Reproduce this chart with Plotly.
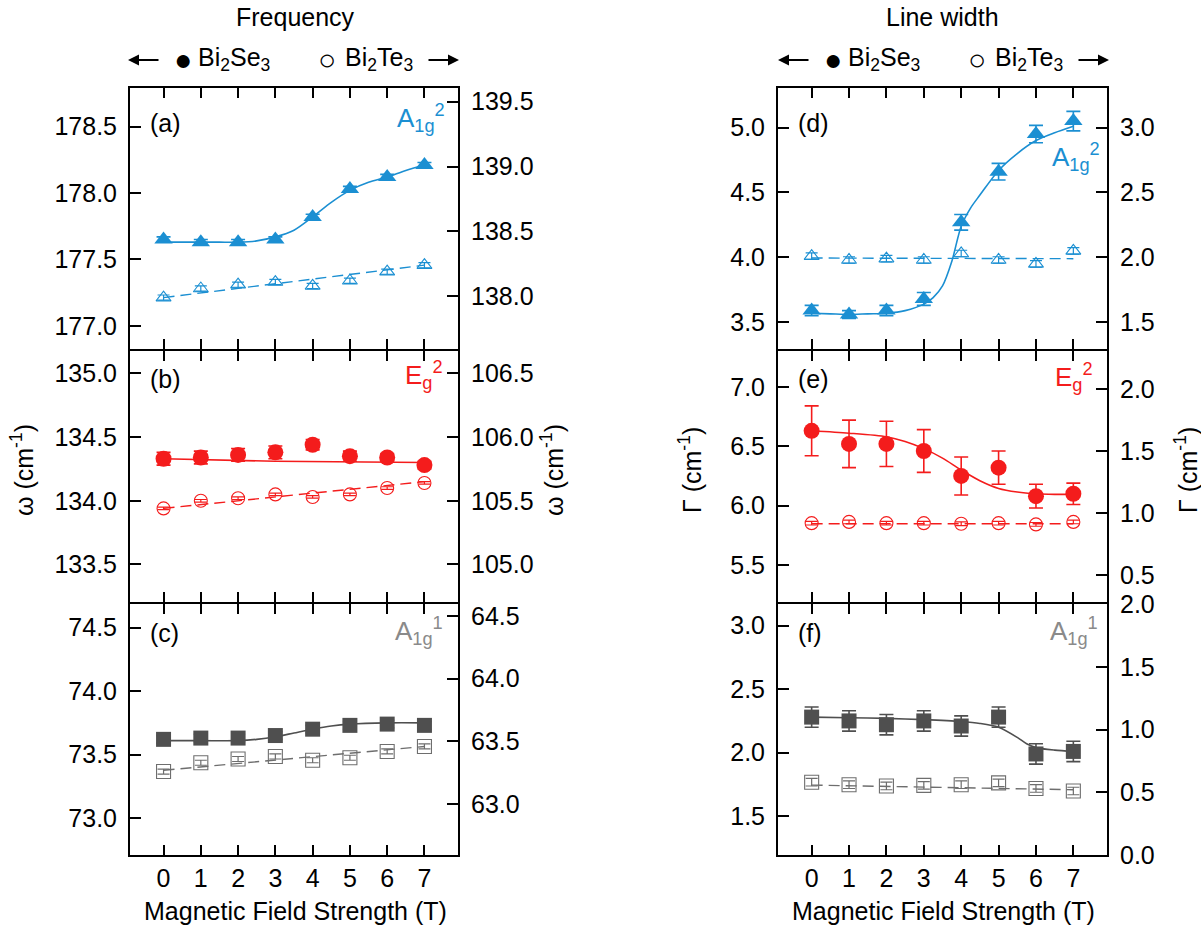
import plotly.graph_objects as go

W, H = 1201, 934
FONT = "Liberation Sans, Arial, sans-serif"

field = [0, 1, 2, 3, 4, 5, 6, 7]

# ---- (a) A1g^2 frequency ----
a_se = [177.65, 177.63, 177.63, 177.65, 177.82, 178.03, 178.12, 178.21]
a_se_err = [0.02, 0.02, 0.02, 0.02, 0.02, 0.02, 0.02, 0.02]
a_te = [137.99, 138.06, 138.09, 138.11, 138.08, 138.12, 138.19, 138.24]
a_te_err = [0.02, 0.02, 0.02, 0.02, 0.02, 0.02, 0.02, 0.02]
a_fit_x = [0, 0.5, 1, 1.5, 2, 2.5, 3, 3.5, 4, 4.5, 5, 5.5, 6, 6.5, 7]
a_fit_se = [177.63, 177.63, 177.63, 177.63, 177.63, 177.64, 177.67, 177.72,
            177.82, 177.93, 178.02, 178.08, 178.12, 178.17, 178.21]
a_fit_te_x = [0, 7]
a_fit_te = [137.99, 138.24]

# ---- (b) Eg^2 frequency ----
b_se = [134.33, 134.34, 134.36, 134.38, 134.44, 134.35, 134.34, 134.28]
b_se_err = [0.05, 0.05, 0.05, 0.05, 0.04, 0.04, 0.03, 0.03]
b_te = [105.44, 105.50, 105.52, 105.55, 105.53, 105.55, 105.60, 105.64]
b_te_err = [0.01, 0.01, 0.01, 0.01, 0.01, 0.01, 0.01, 0.01]
b_fit_x = [0, 3, 7]
b_fit_se = [134.33, 134.31, 134.30]
b_fit_te_x = [0, 7]
b_fit_te = [105.44, 105.65]

# ---- (c) A1g^1 frequency ----
c_se = [73.62, 73.63, 73.63, 73.65, 73.70, 73.73, 73.74, 73.73]
c_se_err = [0.03, 0.03, 0.03, 0.03, 0.03, 0.03, 0.03, 0.03]
c_te = [63.26, 63.33, 63.36, 63.38, 63.35, 63.37, 63.42, 63.46]
c_te_err = [0.02, 0.02, 0.02, 0.02, 0.02, 0.02, 0.02, 0.02]
c_fit_x = [0, 1, 2, 2.5, 3, 3.5, 4, 4.5, 5, 6, 7]
c_fit_se = [73.61, 73.61, 73.61, 73.62, 73.64, 73.67, 73.70, 73.725, 73.74, 73.75, 73.75]
c_fit_te_x = [0, 7]
c_fit_te = [63.27, 63.46]

# ---- (d) A1g^2 line width ----
d_se = [3.59, 3.56, 3.59, 3.68, 4.27, 4.66, 4.95, 5.05]
d_se_err = [0.04, 0.03, 0.04, 0.05, 0.06, 0.064, 0.067, 0.075]
d_te = [2.01, 1.98, 1.99, 1.98, 2.03, 1.98, 1.95, 2.05]
d_te_err = [0.025, 0.025, 0.025, 0.025, 0.025, 0.025, 0.025, 0.025]
d_fit_x = [0, 0.5, 1, 1.5, 2, 2.5, 3, 3.25, 3.5, 3.75, 4, 4.25, 4.5, 5, 5.5, 6, 6.5, 7]
d_fit_se = [3.57, 3.565, 3.56, 3.565, 3.57, 3.59, 3.64, 3.69, 3.78, 3.97, 4.24,
            4.38, 4.48, 4.67, 4.80, 4.90, 4.96, 5.01]
d_fit_te_x = [0, 7]
d_fit_te = [1.995, 1.99]

# ---- (e) Eg^2 line width ----
e_se = [6.63, 6.52, 6.52, 6.46, 6.25, 6.32, 6.08, 6.10]
e_se_err = [0.21, 0.20, 0.19, 0.18, 0.16, 0.14, 0.10, 0.09]
e_te = [0.92, 0.93, 0.92, 0.92, 0.915, 0.92, 0.91, 0.93]
e_te_err = [0.015, 0.015, 0.015, 0.015, 0.015, 0.015, 0.015, 0.015]
e_fit_x = [0, 1, 2, 2.5, 3, 3.5, 4, 4.5, 5, 5.5, 6, 6.5, 7]
e_fit_se = [6.63, 6.61, 6.58, 6.54, 6.48, 6.40, 6.30, 6.21, 6.145, 6.115, 6.10, 6.095, 6.095]
e_fit_te_x = [0, 7]
e_fit_te = [0.915, 0.915]

# ---- (f) A1g^1 line width ----
f_se = [2.28, 2.25, 2.22, 2.25, 2.21, 2.28, 1.99, 2.01]
f_se_err = [0.08, 0.08, 0.08, 0.08, 0.08, 0.08, 0.08, 0.08]
f_te = [0.58, 0.56, 0.55, 0.555, 0.56, 0.575, 0.53, 0.51]
f_te_err = [0.03, 0.03, 0.03, 0.03, 0.03, 0.03, 0.03, 0.03]
f_fit_x = [0, 1, 2, 3, 4, 4.5, 5, 5.5, 5.75, 6, 6.5, 7]
f_fit_se = [2.28, 2.275, 2.27, 2.26, 2.245, 2.23, 2.20, 2.12, 2.07, 2.04, 2.02, 2.01]
f_fit_te_x = [0, 7]
f_fit_te = [0.557, 0.52]

BLUE = "#1b8fd2"
RED = "#f41c1c"
GRAY = "#4f4f4f"
GRAY_OPEN = "#6e6e6e"
GRAY_TXT = "#8a8a8a"


def px(x):
    return x / W


def py(y):
    return 1 - y / H


COLS = [(130, 458), (778, 1107)]
# slight offsets so that neighbouring axis lines coincide on the dividers
ROWS = [(88, 348.5), (350.5, 602), (604, 855)]
LABEL_Y = [123, 379, 633]

panels = [
    dict(col=0, row=0, se=a_se, se_err=a_se_err, te=a_te, te_err=a_te_err,
         fx=a_fit_x, fse=a_fit_se, ftx=a_fit_te_x, fte=a_fit_te,
         color=BLUE, sym="triangle-up", size=16, osize=13,
         lr=[176.83, 178.79], lt=[177.0, 177.5, 178.0, 178.5],
         rr=[137.598, 139.605], rt=[138.0, 138.5, 139.0, 139.5],
         label="(a)", mode="A<sub>1g</sub><sup>2</sup>", mx=395, my=118, mcolor=BLUE),
    dict(col=0, row=1, se=b_se, se_err=b_se_err, te=b_te, te_err=b_te_err,
         fx=b_fit_x, fse=b_fit_se, ftx=b_fit_te_x, fte=b_fit_te,
         color=RED, sym="circle", size=16, osize=13,
         lr=[133.205, 135.18], lt=[133.5, 134.0, 134.5, 135.0],
         rr=[104.705, 106.68], rt=[105.0, 105.5, 106.0, 106.5],
         label="(b)", mode="E<sub>g</sub><sup>2</sup>", mx=403, my=375, mcolor=RED),
    dict(col=0, row=2, se=c_se, se_err=c_se_err, te=c_te, te_err=c_te_err,
         fx=c_fit_x, fse=c_fit_se, ftx=c_fit_te_x, fte=c_fit_te,
         color=GRAY, sym="square", size=15, osize=14,
         lr=[72.71, 74.685], lt=[73.0, 73.5, 74.0, 74.5],
         rr=[62.595, 64.595], rt=[63.0, 63.5, 64.0, 64.5],
         label="(c)", mode="A<sub>1g</sub><sup>1</sup>", mx=393, my=631, mcolor=GRAY_TXT),
    dict(col=1, row=0, se=d_se, se_err=d_se_err, te=d_te, te_err=d_te_err,
         fx=d_fit_x, fse=d_fit_se, ftx=d_fit_te_x, fte=d_fit_te,
         color=BLUE, sym="triangle-up", size=16, osize=13,
         lr=[3.298, 5.305], lt=[3.5, 4.0, 4.5, 5.0],
         rr=[1.298, 3.305], rt=[1.5, 2.0, 2.5, 3.0],
         label="(d)", mode="A<sub>1g</sub><sup>2</sup>", mx=1050, my=157, mcolor=BLUE),
    dict(col=1, row=1, se=e_se, se_err=e_se_err, te=e_te, te_err=e_te_err,
         fx=e_fit_x, fse=e_fit_se, ftx=e_fit_te_x, fte=e_fit_te,
         color=RED, sym="circle", size=16, osize=13,
         lr=[5.189, 7.306], lt=[5.5, 6.0, 6.5, 7.0],
         rr=[0.286, 2.308], rt=[0.5, 1.0, 1.5, 2.0],
         label="(e)", mode="E<sub>g</sub><sup>2</sup>", mx=1053, my=377, mcolor=RED),
    dict(col=1, row=2, se=f_se, se_err=f_se_err, te=f_te, te_err=f_te_err,
         fx=f_fit_x, fse=f_fit_se, ftx=f_fit_te_x, fte=f_fit_te,
         color=GRAY, sym="square", size=15, osize=14,
         lr=[1.195, 3.17], lt=[1.5, 2.0, 2.5, 3.0],
         rr=[0.0, 2.0], rt=[0.0, 0.5, 1.0, 1.5, 2.0],
         label="(f)", mode="A<sub>1g</sub><sup>1</sup>", mx=1048, my=631, mcolor=GRAY_TXT),
]

fig = go.Figure()
layout = dict(
    template="none",
    width=W, height=H, autosize=False,
    margin=dict(l=0, r=0, t=0, b=0, pad=0, autoexpand=False),
    paper_bgcolor="white", plot_bgcolor="white",
    showlegend=False,
    font=dict(family=FONT, size=25, color="black"),
)
annotations = []

for i, p in enumerate(panels):
    n = i + 1
    xname = "x" if n == 1 else f"x{n}"
    yname = "y" if n == 1 else f"y{n}"
    yrname = f"y{n + 6}"
    x0, x1 = COLS[p["col"]]
    y0, y1 = ROWS[p["row"]]
    open_color = GRAY_OPEN if p["color"] == GRAY else p["color"]

    layout["xaxis" if n == 1 else f"xaxis{n}"] = dict(
        domain=[px(x0), px(x1)], anchor=yname, range=[-0.9, 7.9],
        tickvals=field, ticks="inside", ticklen=10, tickwidth=2, tickcolor="black",
        showline=True, linewidth=2, linecolor="black", mirror="ticks",
        showgrid=False, zeroline=False, automargin=False,
        showticklabels=(p["row"] == 2), ticklabelstandoff=0,
        tickfont=dict(size=25, family=FONT),
    )
    layout["yaxis" if n == 1 else f"yaxis{n}"] = dict(
        domain=[py(y1), py(y0)], anchor=xname, range=p["lr"],
        tickvals=p["lt"], tickformat=".1f",
        ticks="inside", ticklen=11, tickwidth=2, tickcolor="black",
        showline=True, linewidth=2, linecolor="black", automargin=False,
        showgrid=False, zeroline=False, ticklabelstandoff=6,
        tickfont=dict(size=25, family=FONT),
    )
    layout[f"yaxis{n + 6}"] = dict(
        overlaying=yname, side="right", anchor=xname, range=p["rr"],
        tickvals=p["rt"], tickformat=".1f",
        ticks="inside", ticklen=11, tickwidth=2, tickcolor="black",
        showline=True, linewidth=2, linecolor="black", automargin=False,
        showgrid=False, zeroline=False, ticklabelstandoff=6,
        tickfont=dict(size=25, family=FONT),
    )

    # Bi2Se3 fit and points (left axis)
    fig.add_trace(go.Scatter(
        x=p["fx"], y=p["fse"], mode="lines", xaxis=xname, yaxis=yname,
        line=dict(color=p["color"], width=1.6, shape="spline", smoothing=0.8),
        hoverinfo="skip"))
    fig.add_trace(go.Scatter(
        x=field, y=p["se"], mode="markers", xaxis=xname, yaxis=yname,
        marker=dict(symbol=p["sym"], size=p["size"], color=p["color"],
                    line=dict(width=0)),
        error_y=dict(type="data", array=p["se_err"], color=p["color"],
                     thickness=1.6, width=7)))
    # Bi2Te3 fit and points (right axis)
    fig.add_trace(go.Scatter(
        x=p["ftx"], y=p["fte"], mode="lines", xaxis=xname, yaxis=yrname,
        line=dict(color=open_color, width=1.4, dash="11px,6px"),
        hoverinfo="skip"))
    fig.add_trace(go.Scatter(
        x=field, y=p["te"], mode="markers", xaxis=xname, yaxis=yrname,
        marker=dict(symbol=p["sym"] + "-open", size=p["osize"], color=open_color,
                    line=dict(width=1.1, color=open_color)),
        error_y=dict(type="data", array=p["te_err"], color=open_color,
                     thickness=1.2, width=6)))

    annotations.append(dict(
        x=px(x0 + 18), y=py(LABEL_Y[p["row"]]),
        xref="paper", yref="paper", xanchor="left", yanchor="middle",
        text=p["label"], showarrow=False, font=dict(size=25, family=FONT)))
    annotations.append(dict(
        x=px(p["mx"]), y=py(p["my"]), xref="paper", yref="paper",
        xanchor="left", yanchor="middle", text=p["mode"], showarrow=False,
        font=dict(size=26, family=FONT, color=p["mcolor"])))

# headers
for cx, title in [(295, "Frequency"), (942, "Line width")]:
    annotations.append(dict(x=px(cx), y=py(17), xref="paper", yref="paper",
                            text=title, showarrow=False, xanchor="center",
                            yanchor="middle", font=dict(size=25, family=FONT)))
for off in [0, 650]:
    items = [
        (183 + off, "center", "●", 30),
        (196 + off, "left", "Bi<sub>2</sub>Se<sub>3</sub>", 25),
        (327 + off, "center", "○", 30),
        (343 + off, "left", "Bi<sub>2</sub>Te<sub>3</sub>", 25),
    ]
    for xx, anc, txt, fs in items:
        annotations.append(dict(x=px(xx), y=py(59), xref="paper", yref="paper",
                                text=txt, showarrow=False, xanchor=anc,
                                yanchor="middle", font=dict(size=fs, family=FONT)))
    # arrows
    for tip, tail in [(128 + off, 160 + off), (459 + off, 427 + off)]:
        annotations.append(dict(x=px(tip), y=py(60), xref="paper", yref="paper",
                                ax=tail - tip, ay=0, axref="pixel", ayref="pixel",
                                text="", showarrow=True, arrowhead=2,
                                arrowsize=1.1, arrowwidth=2, arrowcolor="black"))

# axis titles
for xx, txt in [(22, "ω (cm<sup>-1</sup>)"), (552, "ω (cm<sup>-1</sup>)"),
                (690, "Γ (cm<sup>-1</sup>)"), (1186, "Γ (cm<sup>-1</sup>)")]:
    annotations.append(dict(x=px(xx), y=py(470), xref="paper", yref="paper",
                            text=txt, showarrow=False, textangle=-90,
                            xanchor="center", yanchor="middle",
                            font=dict(size=25, family=FONT)))
for cx in [295, 943]:
    annotations.append(dict(x=px(cx), y=py(911), xref="paper", yref="paper",
                            text="Magnetic Field Strength (T)", showarrow=False,
                            xanchor="center", yanchor="middle",
                            font=dict(size=25, family=FONT)))

layout["annotations"] = annotations
fig.update_layout(**layout)
fig.write_html("out.html")
